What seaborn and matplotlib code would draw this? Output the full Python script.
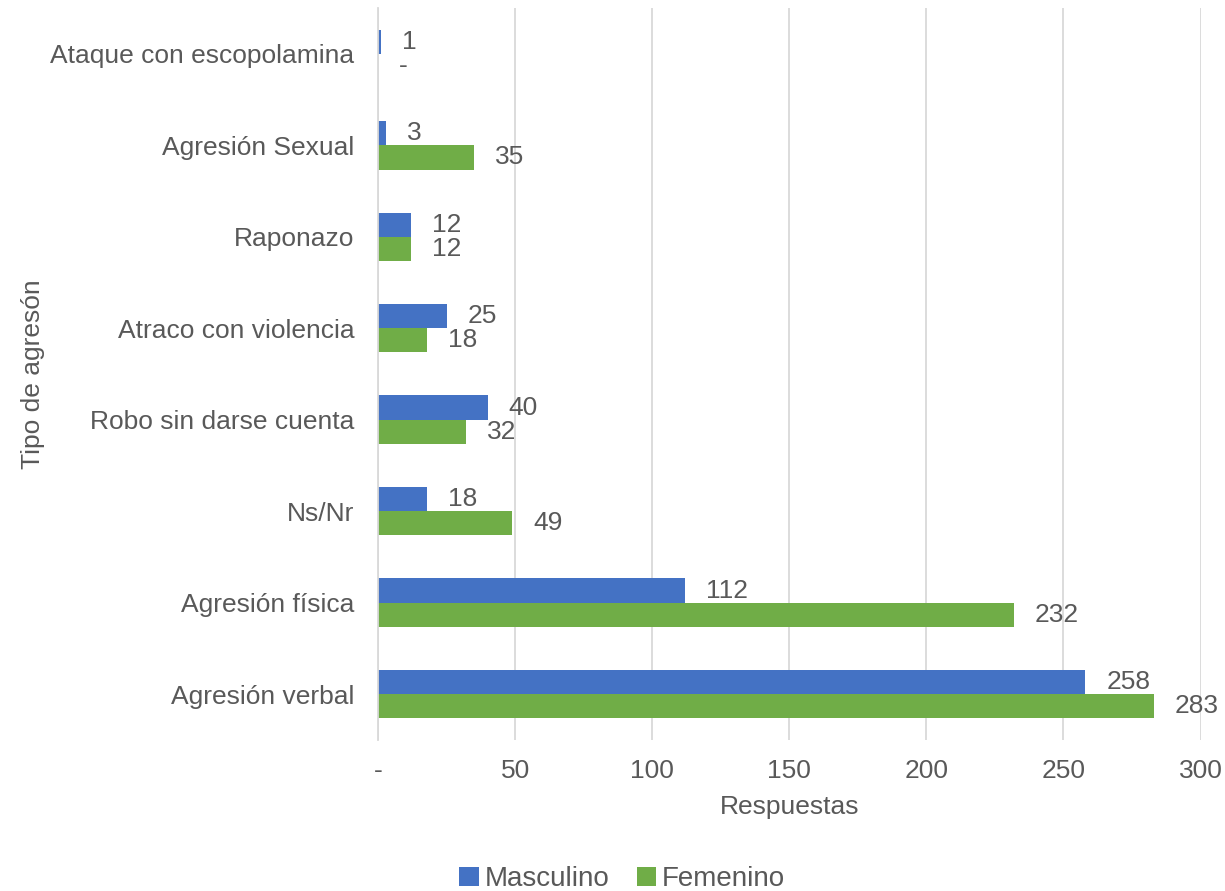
import pandas as pd
import seaborn as sns
import matplotlib.pyplot as plt

# Data (top to bottom)
categorias = ['Ataque con escopolamina', 'Agresión Sexual', 'Raponazo',
              'Atraco con violencia', 'Robo sin darse cuenta', 'Ns/Nr',
              'Agresión física', 'Agresión verbal']
masculino = [1, 3, 12, 25, 40, 18, 112, 258]
femenino = [0, 35, 12, 18, 32, 49, 232, 283]
x_ticks = [0, 50, 100, 150, 200, 250, 300]
x_tick_labels = ['-', '50', '100', '150', '200', '250', '300']

TEXT = '#595959'


def main():
    df = pd.DataFrame({
        'tipo': categorias * 2,
        'respuestas': masculino + femenino,
        'sexo': ['Masculino'] * len(categorias) + ['Femenino'] * len(categorias),
    })

    sns.set_style('white')
    plt.rcParams['font.family'] = ['Liberation Sans', 'DejaVu Sans']

    fig, ax = plt.subplots(figsize=(12.25, 8.91), dpi=100)
    fig.subplots_adjust(left=0.3086, right=0.98, top=0.991, bottom=0.1695)

    sns.barplot(data=df, y='tipo', x='respuestas', hue='sexo', orient='h',
                order=categorias, hue_order=['Masculino', 'Femenino'],
                palette=['#4472C4', '#70AD47'], width=0.53, saturation=1,
                linewidth=0, ax=ax)

    # Value labels; zero is shown as a dash like the original
    for cont in ax.containers:
        labels = ['-' if v == 0 else f'{v:.0f}' for v in cont.datavalues]
        ax.bar_label(cont, labels=labels, padding=15, fontsize=19, color=TEXT)

    ax.set_xlim(0, 300)
    ax.set_xticks(x_ticks)
    ax.set_xticklabels(x_tick_labels)
    ax.xaxis.grid(True, color='#D9D9D9', linewidth=1.3)
    ax.set_axisbelow(True)
    for s in ['top', 'right', 'bottom']:
        ax.spines[s].set_visible(False)
    ax.spines['left'].set_color('#D9D9D9')
    ax.spines['left'].set_linewidth(1.3)

    ax.tick_params(axis='x', length=0, pad=14, labelsize=19, labelcolor=TEXT)
    ax.tick_params(axis='y', length=0, pad=17, labelsize=19, labelcolor=TEXT)
    ax.set_xlabel('Respuestas', fontsize=19, color=TEXT, labelpad=8)
    ax.set_ylabel('Tipo de agresón', fontsize=19, color=TEXT, labelpad=4)

    ax.legend(loc='center', bbox_to_anchor=(0.297, -0.19), ncol=2,
              frameon=False, fontsize=20, labelcolor=TEXT,
              handlelength=0.7, handleheight=0.7, handletextpad=0.2,
              columnspacing=1.0, borderaxespad=0, borderpad=0)

    fig.savefig('out.png', dpi=100)


if __name__ == '__main__':
    main()
